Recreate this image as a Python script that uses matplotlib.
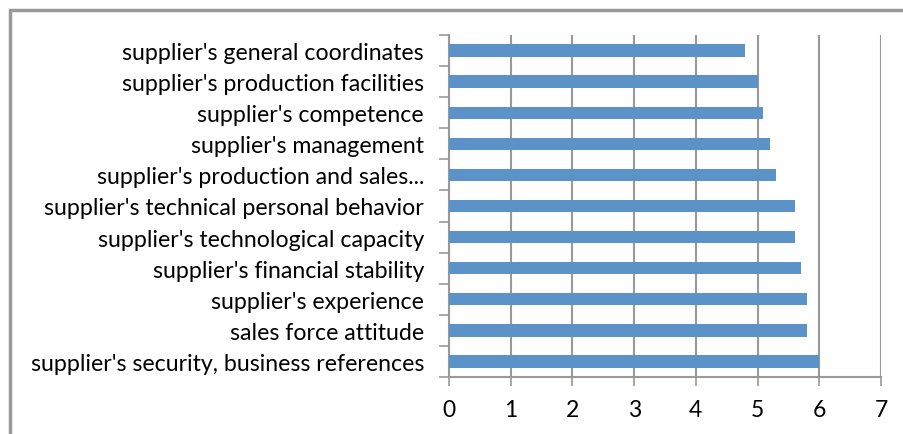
import numpy as np
import matplotlib.pyplot as plt
from matplotlib.patches import Rectangle

# categories listed bottom to top
labels = [
    "supplier's security, business references",
    "sales force attitude",
    "supplier's experience",
    "supplier's financial stability",
    "supplier's technological capacity",
    "supplier's technical personal behavior",
    "supplier's production and sales...",
    "supplier's management",
    "supplier's competence",
    "supplier's production facilities",
    "supplier's general coordinates",
]
values = [6.0, 5.8, 5.8, 5.7, 5.6, 5.6, 5.3, 5.2, 5.08, 5.0, 4.8]
xticks = [0, 1, 2, 3, 4, 5, 6, 7]

plt.rcParams['font.family'] = ['Lato', 'DejaVu Sans']

fig = plt.figure(figsize=(9.04, 4.35), dpi=100)
ax = fig.add_axes([449/904, 57/435, 432/904, 342/435])

grid_col = "#999999"
y = np.arange(len(labels))
ax.barh(y, values, height=0.4, color="#5B93C9", zorder=3)

ax.set_xlim(0, 7)
ax.set_ylim(-0.5, len(labels) - 0.5)
ax.set_xticks(xticks)
ax.set_xticklabels([str(t) for t in xticks], fontsize=16.5)
ax.set_yticks(y)
ax.set_yticklabels(labels, fontsize=16.7)
ax.set_yticks(np.arange(len(labels) + 1) - 0.5, minor=True)

ax.xaxis.grid(True, color=grid_col, linewidth=1.5, zorder=0)
ax.tick_params(axis="x", which="major", length=6.5, width=1.2, color=grid_col, pad=9)
ax.tick_params(axis="y", which="major", length=0, pad=18)
ax.tick_params(axis="y", which="minor", length=7, width=1.2, color=grid_col)

for side in ["top", "right"]:
    ax.spines[side].set_visible(False)
for side in ["left", "bottom"]:
    ax.spines[side].set_color(grid_col)
    ax.spines[side].set_linewidth(1.5)

# outer chart border
fig.patches.append(Rectangle((10/904, -0.1), 1.2, 1.1 - 11/435,
                             transform=fig.transFigure, fill=False,
                             edgecolor="#999999", linewidth=2.5))

fig.savefig("out.png", dpi=100)
